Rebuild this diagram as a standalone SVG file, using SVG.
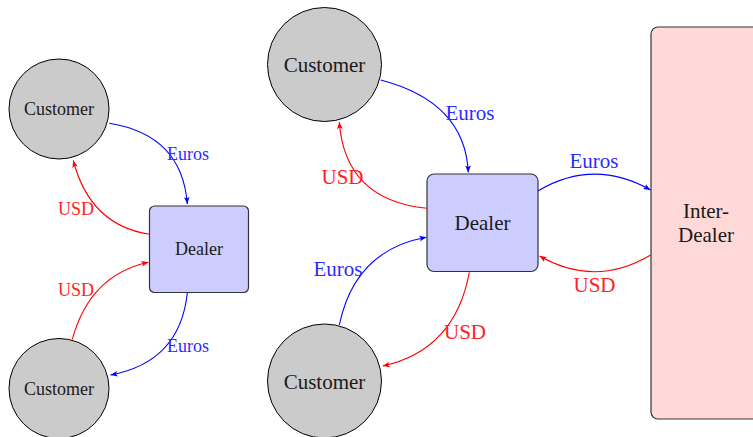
<svg xmlns="http://www.w3.org/2000/svg" width="753" height="437" viewBox="0 0 753 437">
  <style>
    .cust { fill: #cbcbcb; stroke: #000; stroke-width: 1; }
    .dealer { fill: #ccccff; stroke: #333; stroke-width: 1.2; }
    .inter { fill: #ffd8d8; stroke: #333; stroke-width: 1.2; }
    text { font-family: "Liberation Serif", "Times New Roman", serif; text-anchor: middle; }
    .s { font-size: 18px; }
    .l { font-size: 21px; }
    .lbl { fill: #1a1a1a; }
    .b { stroke: #0000ff; fill: none; stroke-width: 1.1; }
    .r { stroke: #ff0000; fill: none; stroke-width: 1.1; }
    .bt { fill: #2b2bff; }
    .rt { fill: #ff2222; }
  </style>
  <defs>
    <marker id="ab" viewBox="-7 -3 7 6" refX="0" refY="0" markerWidth="7" markerHeight="6" markerUnits="userSpaceOnUse" orient="auto">
      <path d="M0,0 L-7,-2.8 L-5.5,0 L-7,2.8 Z" fill="#0000ff"/>
    </marker>
    <marker id="ar" viewBox="-7 -3 7 6" refX="0" refY="0" markerWidth="7" markerHeight="6" markerUnits="userSpaceOnUse" orient="auto">
      <path d="M0,0 L-7,-2.8 L-5.5,0 L-7,2.8 Z" fill="#ff0000"/>
    </marker>
  </defs>

  <!-- small network -->
  <g id="cust-a-top">
    <circle class="cust" cx="59" cy="109" r="50"/>
    <text class="s lbl" x="59" y="115">Customer</text>
  </g>
  <g id="cust-a-bottom">
    <circle class="cust" cx="59" cy="388.5" r="50"/>
    <text class="s lbl" x="59" y="395">Customer</text>
  </g>
  <g id="dealer-a">
    <rect class="dealer" x="149.5" y="206" width="99" height="86.5" rx="5"/>
    <text class="s lbl" x="199" y="255">Dealer</text>
  </g>

  <!-- large network -->
  <g id="cust-b-top">
    <circle class="cust" cx="324.5" cy="64.5" r="57"/>
    <text class="l lbl" x="324.5" y="72">Customer</text>
  </g>
  <g id="cust-b-bottom">
    <circle class="cust" cx="324.5" cy="381" r="57"/>
    <text class="l lbl" x="324.5" y="389">Customer</text>
  </g>
  <g id="dealer-b">
    <rect class="dealer" x="427" y="174" width="111" height="97.5" rx="7"/>
    <text class="l lbl" x="482.5" y="230">Dealer</text>
  </g>
  <g id="inter-dealer">
    <rect class="inter" x="651" y="27" width="120" height="392" rx="7"/>
    <text class="l lbl" x="706" y="218">Inter-</text>
    <text class="l lbl" x="706" y="242">Dealer</text>
  </g>

  <g id="connectors">
    <!-- small network -->
    <path class="b" d="M109.3,123.3 Q182,135 187.3,204" marker-end="url(#ab)"/>
    <text class="s bt" x="188" y="160">Euros</text>
    <path class="r" d="M149.3,234.3 Q90,225 73.3,160.5" marker-end="url(#ar)"/>
    <text class="s rt" x="76" y="215">USD</text>
    <path class="r" d="M72.3,339.3 Q90,275 148.5,262.3" marker-end="url(#ar)"/>
    <text class="s rt" x="76" y="296">USD</text>
    <path class="b" d="M187.3,293 Q180,362 110.5,375" marker-end="url(#ab)"/>
    <text class="s bt" x="188" y="352">Euros</text>

    <!-- large network -->
    <path class="b" d="M380.7,80 Q465,102 468.3,172.5" marker-end="url(#ab)"/>
    <text class="l bt" x="470" y="120">Euros</text>
    <path class="r" d="M426.7,208.3 Q345,200 339.3,122" marker-end="url(#ar)"/>
    <text class="l rt" x="342.5" y="184">USD</text>
    <path class="b" d="M339.3,325 Q355,250 426.5,237.3" marker-end="url(#ab)"/>
    <text class="l bt" x="338" y="276">Euros</text>
    <path class="r" d="M469.3,272.3 Q455,350 382.7,366" marker-end="url(#ar)"/>
    <text class="l rt" x="465" y="339">USD</text>
    <path class="b" d="M538.3,190.7 Q594,158 650.5,190" marker-end="url(#ab)"/>
    <text class="l bt" x="594" y="168">Euros</text>
    <path class="r" d="M650.7,255 Q595,288 539.5,256" marker-end="url(#ar)"/>
    <text class="l rt" x="594.5" y="292">USD</text>
  </g>
</svg>
